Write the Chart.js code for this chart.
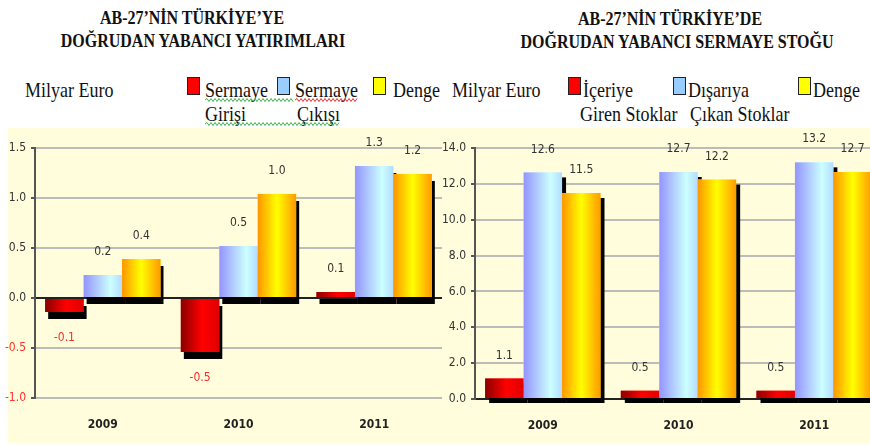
<!DOCTYPE html>
<html lang="tr">
<head>
<meta charset="utf-8">
<script src="https://cdn.jsdelivr.net/npm/chart.js@4.4.1/dist/chart.umd.min.js"></script>
<style>
    html, body { margin: 0; padding: 0; }
    body { width: 870px; height: 446px; overflow: hidden; position: relative; background: #fff;
           font-family: 'Liberation Serif', 'Times New Roman', serif; color: #111; }
    .panel { position: absolute; left: 8px; top: 128px; width: 862px; height: 315px; background: #fffddb; }
    .t { position: absolute; white-space: nowrap; line-height: 20px; transform: scaleY(1.12); }
    .baslik { font-weight: bold; font-size: 16px; text-align: center; width: 400px; }
    .lg { font-size: 18px; }
    .kutu { position: absolute; top: 77px; width: 11px; height: 16px; border: 1px solid #222; }
    canvas { position: absolute; top: 128px; }
    svg { position: absolute; left: 0; top: 0; }
</style>
</head>
<body>
<div class="panel"></div>

<div class="t baslik" style="left:-8px; top:8px">AB-27’NİN TÜRKİYE’YE</div>
<div class="t baslik" style="left:3px; top:31px">DOĞRUDAN YABANCI YATIRIMLARI</div>
<div class="t baslik" style="left:470px; top:9px">AB-27’NİN TÜRKİYE’DE</div>
<div class="t baslik" style="left:477px; top:32px">DOĞRUDAN YABANCI SERMAYE STOĞU</div>

<!-- sol lejant -->
<div class="t lg" style="left:25px; top:80px">Milyar Euro</div>
<div class="kutu" style="left:187px; background:#ff0000"></div>
<div class="t lg" style="left:205px; top:80px">Sermaye</div>
<div class="t lg" style="left:205px; top:104px">Girişi</div>
<div class="kutu" style="left:277px; background:#99ccff"></div>
<div class="t lg" style="left:295px; top:80px">Sermaye</div>
<div class="t lg" style="left:297px; top:104px">Çıkışı</div>
<div class="kutu" style="left:373px; background:#ffff00"></div>
<div class="t lg" style="left:393px; top:80px">Denge</div>

<!-- sag lejant -->
<div class="t lg" style="left:452px; top:80px">Milyar Euro</div>
<div class="kutu" style="left:568px; background:#ff0000"></div>
<div class="t lg" style="left:583px; top:80px">İçeriye</div>
<div class="t lg" style="left:580px; top:104px">Giren Stoklar</div>
<div class="kutu" style="left:673px; background:#99ccff"></div>
<div class="t lg" style="left:688px; top:80px">Dışarıya</div>
<div class="t lg" style="left:690px; top:104px">Çıkan Stoklar</div>
<div class="kutu" style="left:798px; background:#ffff00"></div>
<div class="t lg" style="left:813px; top:80px">Denge</div>

<canvas id="grafikAkim" width="442" height="315" style="left:0px"></canvas>
<canvas id="grafikStok" width="442" height="315" style="left:440px"></canvas>

<svg id="dalgalar" width="870" height="446"></svg>

<script>
// yillar
const yillar = ['2009', '2010', '2011'];

// AB-27'nin Turkiye'ye dogrudan yabanci yatirimlari (milyar euro)
const sermayeGirisi = [-0.14, -0.54, 0.06];
const sermayeCikisi = [0.23, 0.52, 1.32];
const dengeAkim = [0.39, 1.04, 1.24];

// AB-27'nin Turkiye'de dogrudan yabanci sermaye stogu (milyar euro)
const iceriyeGiren = [1.14, 0.46, 0.46];
const disariyaCikan = [12.64, 12.66, 13.2];
const dengeStok = [11.49, 12.24, 12.66];

// cubuk renkleri (soldan saga gradyan)
const kirmizi = [[0, '#8a0000'], [0.55, '#ff0000'], [1, '#e00000']];
const mavi = [[0, '#9494ff'], [0.7, '#ccffff'], [1, '#b4dcff']];
const sari = [[0, '#ff9500'], [0.5, '#ffff00'], [1, '#ff9900']];

Chart.defaults.font.family = "'Liberation Sans Narrow', 'DejaVu Sans Condensed', 'Arial Narrow', sans-serif";
Chart.defaults.font.size = 12;

function kutu(bar) {
    const p = bar.getProps(['x', 'y', 'base', 'width'], true);
    return { x: p.x - p.width / 2, y: Math.min(p.y, p.base), w: p.width, h: Math.abs(p.base - p.y) };
}

// golge + gradyan + deger etiketleri
const cubukCizim = {
    id: 'cubukCizim',
    beforeDatasetsDraw(chart, args, opts) {
        const ctx = chart.ctx;
        ctx.save();
        ctx.fillStyle = '#000';
        chart.data.datasets.forEach((ds, i) => {
            chart.getDatasetMeta(i).data.forEach(bar => {
                const r = kutu(bar);
                ctx.fillRect(r.x + opts.dx, r.y + opts.dy, r.w, r.h);
            });
        });
        ctx.restore();
    },
    afterDatasetsDraw(chart) {
        const ctx = chart.ctx;
        ctx.save();
        chart.data.datasets.forEach((ds, i) => {
            chart.getDatasetMeta(i).data.forEach(bar => {
                const r = kutu(bar);
                const g = ctx.createLinearGradient(r.x, 0, r.x + r.w, 0);
                ds.renkler.forEach(s => g.addColorStop(s[0], s[1]));
                ctx.fillStyle = g;
                ctx.fillRect(r.x, r.y, r.w, r.h);
            });
        });
        ctx.font = "12px " + Chart.defaults.font.family;
        ctx.textAlign = 'center';
        ctx.textBaseline = 'middle';
        chart.data.datasets.forEach((ds, i) => {
            chart.getDatasetMeta(i).data.forEach((bar, j) => {
                const v = ds.data[j];
                ctx.fillStyle = v < 0 ? '#ff2a2a' : '#333';
                ctx.fillText(v.toFixed(1), bar.x, v < 0 ? bar.y + 26 : bar.y - 23);
            });
        });
        ctx.restore();
    }
};

function seri(veri, renkler) {
    return { data: veri, renkler: renkler, backgroundColor: renkler[1][1], borderWidth: 0 };
}

function grafik(id, seriler, yMin, yMax, adim, golge, altYukseklik) {
    return new Chart(document.getElementById(id), {
        type: 'bar',
        data: { labels: yillar, datasets: seriler },
        options: {
            responsive: false,
            animation: false,
            layout: { padding: { top: 20, left: 0, right: 0, bottom: 0 } },
            datasets: { bar: { categoryPercentage: 0.85, barPercentage: 1 } },
            plugins: {
                legend: { display: false },
                tooltip: { enabled: false },
                cubukCizim: golge
            },
            scales: {
                x: {
                    grid: { display: false, drawTicks: false },
                    border: { display: false },
                    ticks: { padding: 20, color: '#222', font: { size: 12, weight: 'bold' } },
                    afterFit: s => { s.height = altYukseklik; }
                },
                y: {
                    min: yMin,
                    max: yMax,
                    ticks: {
                        stepSize: adim,
                        padding: 5,
                        color: c => c.tick.value < 0 ? '#ff3030' : '#333',
                        callback: v => v.toFixed(1)
                    },
                    grid: {
                        color: c => c.tick && c.tick.value === 0 ? '#222' : '#bcbcbc',
                        lineWidth: 2,
                        tickLength: 4,
                        tickColor: '#555'
                    },
                    border: { color: '#555', width: 2 },
                    afterFit: s => { s.width = 35; }
                }
            }
        },
        plugins: [cubukCizim]
    });
}

grafik('grafikAkim', [
    seri(sermayeGirisi, kirmizi),
    seri(sermayeCikisi, mavi),
    seri(dengeAkim, sari)
], -1, 1.5, 0.5, { dx: 3, dy: 7 }, 45);

grafik('grafikStok', [
    seri(iceriyeGiren, kirmizi),
    seri(disariyaCikan, mavi),
    seri(dengeStok, sari)
], 0, 14, 2, { dx: 4, dy: 5 }, 44);

// imla denetimi dalgali alt cizgileri
function dalga(x1, x2, y, renk) {
    let d = 'M' + x1 + ' ' + y;
    for (let x = x1 + 2, k = 1; x <= x2; x += 2, k++) {
        d += ' L' + x + ' ' + (y + (k % 2 ? -1.5 : 1.5));
    }
    const p = document.createElementNS('http://www.w3.org/2000/svg', 'path');
    p.setAttribute('d', d);
    p.setAttribute('fill', 'none');
    p.setAttribute('stroke', renk);
    p.setAttribute('stroke-width', '1');
    document.getElementById('dalgalar').appendChild(p);
}
dalga(205, 293, 100, '#3fae49');
dalga(295, 357, 100, '#e03030');
dalga(205, 340, 124, '#3fae49');
</script>
</body>
</html>
